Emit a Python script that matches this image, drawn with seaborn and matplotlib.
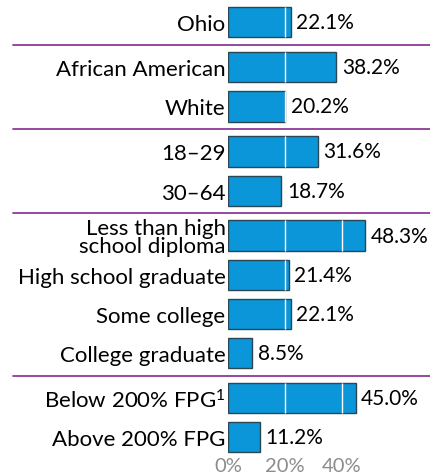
import numpy as np
import pandas as pd
import matplotlib
matplotlib.use('Agg')
import matplotlib.pyplot as plt
import seaborn as sns

# chart data
categories = ['Ohio',
              'African American', 'White',
              '18\u201329', '30\u201364',
              'Less than high\nschool diploma', 'High school graduate',
              'Some college', 'College graduate',
              'Below 200% FPG$^{\\mathregular{1}}$', 'Above 200% FPG']
values = [22.1, 38.2, 20.2, 31.6, 18.7, 48.3, 21.4, 22.1, 8.5, 45.0, 11.2]
group_sizes = [1, 2, 2, 4, 2]
x_ticks = [0, 20, 40]
x_tick_labels = ['0%', '20%', '40%']

sns.set_theme(style='white')
plt.rcParams['font.family'] = ['Lato', 'DejaVu Sans']
plt.rcParams['mathtext.fontset'] = 'custom'
plt.rcParams['mathtext.rm'] = 'Lato:light'
plt.rcParams['mathtext.it'] = 'Lato'

# y positions with a little extra room between groups
gap = 1.147
pos = []
y = 0.0
for n in group_sizes:
    for k in range(n):
        pos.append(y)
        y += 1
    y += gap - 1
pos = np.array(pos)
sep = []
idx = 0
for n in group_sizes[:-1]:
    idx += n
    sep.append((pos[idx - 1] + pos[idx]) / 2)

df = pd.DataFrame({'pos': pos, 'value': values})

W, H = 430, 477
fig = plt.figure(figsize=(W / 100, H / 100), dpi=100)
x0 = 228.3
ax_bottom = 457
ax = fig.add_axes([x0 / W, (H - ax_bottom) / H, 1 - x0 / W, ax_bottom / H])

unit = 39.2
top = 23.3
sns.barplot(data=df, x='value', y='pos', orient='h', native_scale=True,
            color='#0a96d8', saturation=1, width=0.77,
            edgecolor='#2b4756', linewidth=1, ax=ax)

xscale = 2.83
ax.set_xlim(0, (W - x0) / xscale)
ax.set_ylim((ax_bottom - top) / unit, -top / unit)

# white guide lines only inside the bars
for p, v in zip(pos, values):
    for g in x_ticks[1:]:
        if v > g:
            ax.vlines(g, p - 0.385, p + 0.385, color='white', linewidth=1, zorder=3)

ax.bar_label(ax.containers[0], labels=[f'{v:.1f}%' for v in values],
             padding=4, fontsize=15, color='black')

for s in sep:
    ax.axhline(s, xmin=(13 - x0) / (W - x0), xmax=1, color='#8e3a96',
               linewidth=1.3, clip_on=False, zorder=4)

ax.set_yticks(pos)
ax.set_yticklabels(categories, fontsize=16, color='black', linespacing=0.9)
ax.set_xticks(x_ticks)
ax.set_xticklabels(x_tick_labels, fontsize=14.5, color='#8c8c8c')
ax.tick_params(axis='both', length=0)
ax.tick_params(axis='y', pad=2)
ax.tick_params(axis='x', pad=1)
ax.set_xlabel('')
ax.set_ylabel('')
sns.despine(ax=ax, left=True, bottom=True)

fig.savefig('out.png', dpi=100)
